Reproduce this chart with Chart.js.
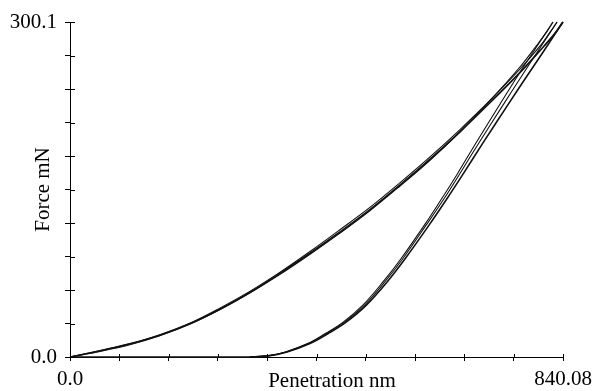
<!DOCTYPE html>
<html>
<head>
<meta charset="utf-8">
<script src="https://cdn.jsdelivr.net/npm/chart.js@4/dist/chart.umd.min.js"></script>
<style>
  html, body { margin: 0; padding: 0; background: #fff; }
  #wrap { width: 598px; height: 391px; }
</style>
</head>
<body>
<div id="wrap"><canvas id="chart" width="598" height="391"></canvas></div>
<script>
// axis ticks
const xTicks = [0, 84.008, 168.016, 252.024, 336.032, 420.04, 504.048, 588.056, 672.064, 756.072, 840.08];
const xTickLabels = ['0.0', '', '', '', '', '', '', '', '', '', '840.08'];
const yTicks = [0, 30.01, 60.02, 90.03, 120.04, 150.05, 180.06, 210.07, 240.08, 270.09, 300.1];
const yTickLabels = ['0.0', '', '', '', '', '', '', '', '', '', '300.1'];

// loading curves (penetration nm / force mN), three cycles
const load1X = [0, 51, 102, 153, 205, 256, 307, 358, 409, 460, 511, 562, 613, 665, 716, 767, 800, 825, 840];
const load1Y = [0, 5.4, 11.6, 19.5, 30, 43, 58, 75, 93, 112, 132, 154, 177, 202, 228, 255, 274, 289, 300.1];
const load2X = [0, 51, 102, 153, 205, 256, 307, 358, 409, 460, 511, 562, 613, 665, 716, 767, 800, 818, 830];
const load2Y = [0, 5.8, 12, 20, 30.5, 44, 59, 76, 94.5, 114, 134, 156, 179, 204, 230, 258, 278, 291, 300.1];
const load3X = [0, 51, 102, 153, 205, 256, 307, 358, 409, 460, 511, 562, 613, 665, 716, 767, 795, 812, 823];
const load3Y = [0, 5, 11, 19, 29.5, 42.5, 57.5, 74, 92, 111, 131, 153, 176, 202, 230, 260, 279, 291, 300.1];

// unloading curves
const unload1X = [840, 806, 779, 745, 704, 670, 642, 613, 571, 540, 505, 470, 440, 409, 370, 341, 307, 200, 100, 0];
const unload1Y = [300.1, 273, 252, 225, 192, 164, 141.5, 119, 88, 67, 46.5, 31, 21, 12, 4.5, 1.2, 0, 0, 0, 0];
const unload2X = [830, 796, 770, 737, 697, 664, 637, 608, 567, 536, 502, 467, 437, 406, 368, 339, 306];
const unload2Y = [300.1, 273, 252, 225, 192, 164, 141.5, 119, 88, 67, 46.5, 31, 21, 12, 4.5, 1.2, 0];
const unload3X = [823, 789, 763, 731, 692, 660, 633, 605, 564, 533, 499, 465, 435, 405, 367, 339, 305];
const unload3Y = [300.1, 273, 252, 225, 192, 164, 141.5, 119, 88, 67, 46.5, 31, 21, 12, 4.5, 1.2, 0];

const pts = (xs, ys) => xs.map((x, i) => ({ x, y: ys[i] }));
const line = (data, w) => ({
    data, showLine: true, borderColor: '#111', borderWidth: w,
    pointRadius: 0, tension: 0.35, fill: false, clip: 4
});

const FONT = { family: '"Liberation Serif", "Times New Roman", serif', size: 21 };

// inner halves of tick marks + axis titles
const extras = {
    id: 'extras',
    afterDraw(chart) {
        const { ctx, chartArea: a, scales } = chart;
        ctx.save();
        ctx.strokeStyle = '#000';
        ctx.lineWidth = 1;
        ctx.beginPath();
        for (const v of yTicks) {
            const y = Math.round(scales.y.getPixelForValue(v)) + 0.5;
            ctx.moveTo(a.left, y); ctx.lineTo(a.left + 5, y);
        }
        for (const v of xTicks) {
            const x = Math.round(scales.x.getPixelForValue(v)) + 0.5;
            ctx.moveTo(x, a.bottom); ctx.lineTo(x, a.bottom - 3);
        }
        ctx.stroke();
        ctx.fillStyle = '#000';
        ctx.font = FONT.size + 'px ' + FONT.family;
        ctx.textAlign = 'center';
        ctx.textBaseline = 'middle';
        ctx.fillText('Penetration nm', a.left + 262, a.bottom + 24);
        ctx.translate(a.left - 27, (a.top + a.bottom) / 2);
        ctx.rotate(-Math.PI / 2);
        ctx.fillText('Force mN', 0, 0);
        ctx.restore();
    }
};

new Chart(document.getElementById('chart'), {
    type: 'scatter',
    data: {
        datasets: [
            line(pts(load1X, load1Y), 1.7),
            line(pts(load2X, load2Y), 1.1),
            line(pts(load3X, load3Y), 1.1),
            line(pts(unload1X, unload1Y), 1.6),
            line(pts(unload2X, unload2Y), 1.1),
            line(pts(unload3X, unload3Y), 1.1)
        ]
    },
    options: {
        responsive: false,
        animation: false,
        devicePixelRatio: 1,
        layout: { padding: { top: 22, right: 35, left: 0, bottom: 0 } },
        plugins: { legend: { display: false }, tooltip: { enabled: false } },
        scales: {
            x: {
                type: 'linear', min: 0, max: 840.08,
                afterBuildTicks: s => { s.ticks = xTicks.map(v => ({ value: v })); },
                afterFit: s => { s.height = 34; },
                ticks: {
                    autoSkip: false, maxRotation: 0, padding: 6, color: '#000', font: FONT,
                    callback: (v, i) => xTickLabels[i]
                },
                grid: { drawOnChartArea: false, tickLength: 4, tickColor: '#000', tickWidth: 1 },
                border: { color: '#000', width: 1 }
            },
            y: {
                type: 'linear', min: 0, max: 300.1,
                afterBuildTicks: s => { s.ticks = yTicks.map(v => ({ value: v })); },
                afterFit: s => { s.width = 70; },
                ticks: {
                    autoSkip: false, padding: 8, color: '#000', font: FONT,
                    callback: (v, i) => yTickLabels[i]
                },
                grid: { drawOnChartArea: false, tickLength: 5, tickColor: '#000', tickWidth: 1 },
                border: { color: '#000', width: 1 }
            }
        }
    },
    plugins: [extras]
});
</script>
</body>
</html>
